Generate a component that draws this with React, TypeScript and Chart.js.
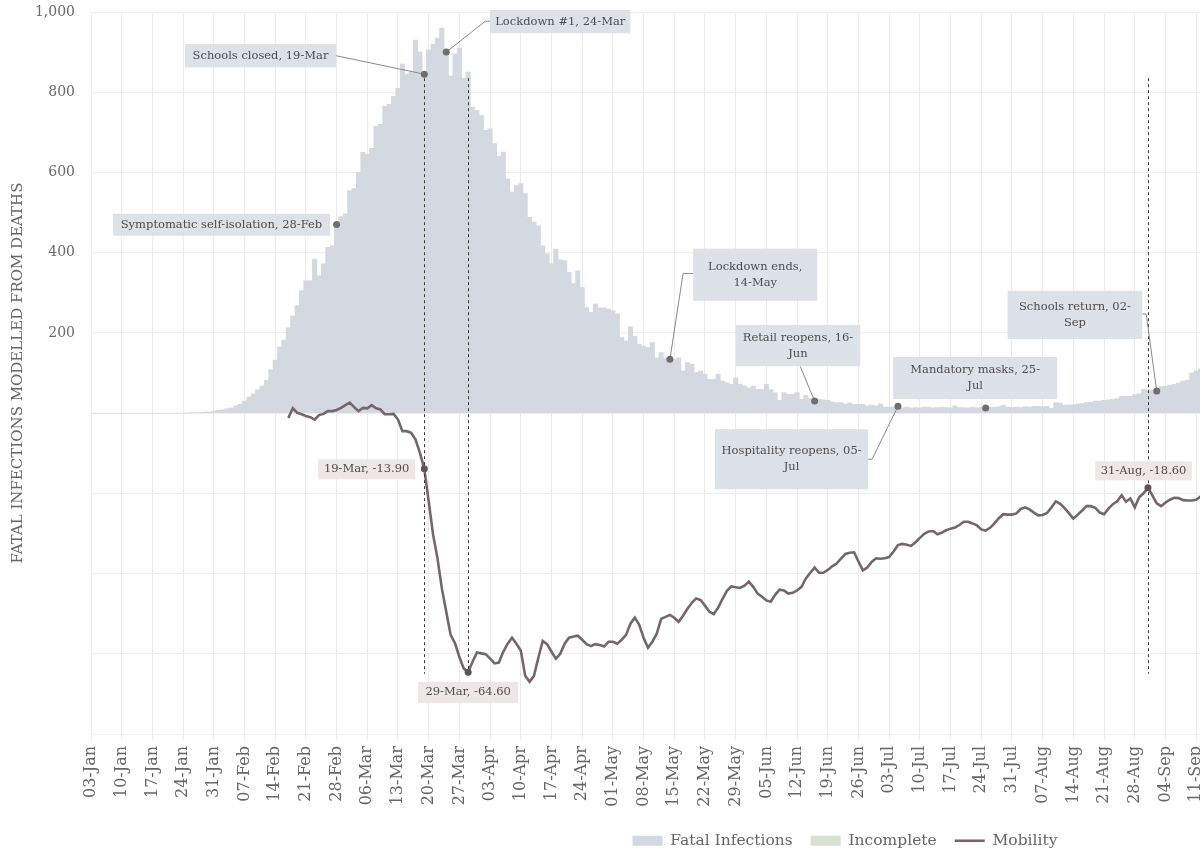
import React, { useEffect, useRef } from 'react';
import { Chart, registerables } from 'chart.js';

Chart.register(...registerables);

const MONTHS = ['Jan', 'Feb', 'Mar', 'Apr', 'May', 'Jun', 'Jul', 'Aug', 'Sep', 'Oct', 'Nov', 'Dec'];

// One category per day, 03-Jan-2020 .. 31-Dec-2020
const dayLabels: string[] = (() => {
  const out: string[] = [];
  const d = new Date(Date.UTC(2020, 0, 3));
  while (d.getUTCFullYear() === 2020) {
    out.push(String(d.getUTCDate()).padStart(2, '0') + '-' + MONTHS[d.getUTCMonth()]);
    d.setUTCDate(d.getUTCDate() + 1);
  }
  return out;
})();

// Fatal infections modelled from deaths, daily from 03-Jan
const fatalInfections: number[] = [
  0, 0, 0, 0, 0, 0, 0, 0, 0, 0,
  0, 0, 0, 0, 0, 0, 0, 0, 0, 0,
  0, 0, 0, 1, 1, 2, 3, 3, 5, 7,
  8, 11, 13, 18, 22, 30, 40, 48, 58, 68,
  82, 108, 132, 165, 182, 213, 242, 268, 305, 330,
  330, 384, 342, 372, 413, 417, 470, 490, 497, 555,
  560, 600, 650, 645, 660, 715, 720, 765, 770, 790,
  810, 870, 845, 850, 930, 900, 845, 905, 920, 935,
  960, 900, 840, 895, 910, 835, 850, 763, 755, 742,
  705, 709, 672, 640, 651, 584, 551, 567, 572, 547,
  488, 476, 467, 417, 397, 372, 409, 382, 380, 351,
  323, 355, 313, 263, 251, 272, 262, 262, 259, 255,
  247, 188, 180, 215, 192, 172, 167, 163, 176, 138,
  151, 137, 134, 134, 138, 105, 126, 122, 101, 105,
  97, 84, 84, 97, 80, 76, 72, 88, 72, 68,
  63, 67, 59, 59, 72, 59, 51, 32, 51, 47,
  47, 51, 34, 44, 36, 30, 34, 33, 32, 28,
  26, 26, 23, 25, 22, 22, 22, 18, 20, 18,
  23, 15, 15, 16, 17, 13, 15, 13, 14, 13,
  15, 14, 13, 14, 15, 14, 13, 18, 14, 13,
  13, 14, 13, 14, 13, 15, 14, 16, 20, 15,
  14, 15, 14, 16, 15, 17, 17, 16, 17, 12,
  26, 25, 20, 20, 21, 23, 24, 26, 27, 30,
  30, 32, 33, 34, 36, 42, 42, 42, 46, 48,
  59, 58, 57, 55, 66, 67, 70, 72, 75, 80,
  82, 100, 105, 110, 115, 118, 120,
];

// Incomplete (recent) infections: none within the visible window
const incompleteInfections: (number | null)[] = [];

// Mobility (% change from baseline), daily from 17-Feb
const mobilityStartDay = '17-Feb';
const mobility: number[] = [
  -1.2, 1.2, 0.1, -0.3, -0.7,
  -1.0, -1.6, -0.5, -0.2, 0.5, 0.5, 0.8, 1.3, 2.0, 2.6,
  1.5, 0.5, 1.3, 1.2, 2.0, 1.2, 0.9, -0.3, -0.3, -0.2,
  -1.6, -4.5, -4.5, -4.9, -6.6, -9.9, -13.9, -22.0, -30.3, -36.2,
  -43.7, -49.5, -55.3, -57.4, -60.8, -63.7, -64.6, -62.0, -59.7, -59.9,
  -60.1, -61.2, -62.4, -62.2, -59.5, -57.5, -56.0, -57.5, -59.2, -65.5,
  -67.0, -65.5, -61.0, -56.8, -57.6, -59.5, -61.2, -60.0, -57.5, -56.0,
  -55.7, -55.5, -56.5, -57.6, -58.1, -57.6, -57.8, -58.2, -57.0, -57.0,
  -57.5, -56.5, -55.3, -52.5, -51.0, -52.8, -56.0, -58.5, -57.0, -55.0,
  -51.3, -50.8, -50.3, -51.0, -52.0, -50.5, -48.8, -47.3, -46.2, -46.6,
  -48.0, -49.5, -50.1, -48.5, -46.3, -44.3, -43.2, -43.4, -43.6, -43.0,
  -42.0, -43.3, -45.0, -45.8, -46.7, -47.0, -45.3, -44.0, -44.2, -45.0,
  -44.8, -44.2, -43.3, -41.2, -39.8, -38.5, -39.8, -39.8, -39.1, -38.2,
  -37.5, -36.3, -35.1, -34.8, -34.7, -37.0, -39.2, -38.5, -37.1, -36.2,
  -36.3, -36.2, -35.9, -34.5, -32.9, -32.6, -32.8, -33.1, -32.2, -31.1,
  -30.1, -29.5, -29.4, -30.2, -29.8, -29.2, -28.8, -28.5, -27.9, -27.1,
  -27.1, -27.5, -28.0, -29.0, -29.3, -28.6, -27.5, -26.2, -25.2, -25.3,
  -25.3, -25.0, -23.9, -23.5, -24.0, -24.8, -25.5, -25.4, -24.9, -23.5,
  -22.0, -22.6, -23.7, -25.0, -26.3, -25.3, -24.3, -23.2, -23.2, -23.6,
  -24.8, -25.2, -23.8, -22.7, -22.0, -20.5, -22.1, -21.3, -23.5, -21.0,
  -20.0, -18.6, -20.5, -22.5, -23.2, -22.3, -21.6, -21.1, -21.2, -21.7,
  -21.8, -21.8, -21.6, -20.8, -20.5, -20.2,
];

// Y axis (shared): fatal infections; mobility drawn on a hidden axis aligned to it
const yMin = -800;
const yMax = 1000;
const yStep = 200;
const mobilityMin = -80;
const mobilityMax = 100;

// Event annotations (box corners and connector points in data units: day index, axis value)
const eventNotes = [
  { day: '28-Feb', lines: ['Symptomatic self-isolation, 28-Feb'], box: [5.0, 54.5, 497, 442], path: [] as number[][] },
  { day: '19-Mar', lines: ['Schools closed, 19-Mar'], box: [21.4, 55.9, 920, 862], path: [[55.9, 891]] },
  { day: '24-Mar', lines: ['Lockdown #1, 24-Mar'], box: [91, 123, 1005, 947], path: [[91, 977], [89.9, 977]] },
  { day: '14-May', lines: ['Lockdown ends,', '14-May'], box: [137.3, 165.6, 410, 280], path: [[137.3, 348], [135, 348]] },
  { day: '16-Jun', lines: ['Retail reopens, 16-', 'Jun'], box: [147, 175.4, 220, 117], path: [[161.7, 117]] },
  { day: '05-Jul', lines: ['Hospitality reopens, 05-', 'Jul'], box: [142.3, 177.2, -40, -190], path: [[177.2, -115], [178.1, -115]] },
  { day: '25-Jul', lines: ['Mandatory masks, 25-', 'Jul'], box: [182.9, 220.3, 140, 35], path: [] as number[][] },
  { day: '02-Sep', lines: ['Schools return, 02-', 'Sep'], box: [209, 239.7, 305, 185], path: [[239.7, 247], [240.6, 247]] },
];

// Mobility value labels (box in day index / mobility units)
const mobilityNotes = [
  { day: '19-Mar', box: [51.8, 73.9, -11.5, -16.5] },
  { day: '29-Mar', box: [74.6, 97.4, -67, -72.25] },
  { day: '31-Aug', box: [229, 251, -12, -16.75] },
];

const dashedDays = ['19-Mar', '29-Mar', '31-Aug'];
const dashedTop = 835; // fatal-infection units
const dashedBottom = -65; // mobility units

const FONT = 'DejaVu Serif';

const mobilityStart = dayLabels.indexOf(mobilityStartDay);
const fatalSeries = dayLabels.map((_, i) => (i < fatalInfections.length ? fatalInfections[i] : null));
const incompleteSeries = dayLabels.map((_, i) => (i < incompleteInfections.length ? incompleteInfections[i] : null));
const mobilitySeries = dayLabels.map((_, i) => {
  const k = i - mobilityStart;
  return k >= 0 && k < mobility.length ? mobility[k] : null;
});

const notesPlugin = {
  id: 'notes',
  afterDatasetsDraw(chart: any) {
    const ctx = chart.ctx;
    const xs = chart.scales.x;
    const ys = chart.scales.y;
    const ms = chart.scales.y2;
    const px = (i: number) => xs.getPixelForValue(i);
    const py = (v: number) => ys.getPixelForValue(v);
    const pm = (v: number) => ms.getPixelForValue(v);
    ctx.save();

    // dashed verticals
    ctx.setLineDash([3, 3]);
    ctx.strokeStyle = '#3a3a3a';
    ctx.lineWidth = 1;
    dashedDays.forEach((d) => {
      const x = Math.round(px(dayLabels.indexOf(d))) + 0.5;
      ctx.beginPath();
      ctx.moveTo(x, py(dashedTop));
      ctx.lineTo(x, pm(dashedBottom));
      ctx.stroke();
    });
    ctx.setLineDash([]);

    const drawBox = (x0: number, x1: number, y0: number, y1: number, fill: string, lines: string[]) => {
      ctx.fillStyle = fill;
      ctx.fillRect(x0, y0, x1 - x0, y1 - y0);
      ctx.fillStyle = '#4d4d4d';
      ctx.font = '11.5px "' + FONT + '"';
      ctx.textAlign = 'center';
      ctx.textBaseline = 'middle';
      const lh = 16;
      const cy = (y0 + y1) / 2 - ((lines.length - 1) * lh) / 2;
      lines.forEach((t, k) => ctx.fillText(t, (x0 + x1) / 2, cy + k * lh));
    };

    // event notes
    eventNotes.forEach((n) => {
      const di = dayLabels.indexOf(n.day);
      const dx = px(di);
      const dy = py(fatalInfections[di]);
      if (n.path.length) {
        ctx.strokeStyle = '#8a8a8a';
        ctx.lineWidth = 1;
        ctx.beginPath();
        n.path.forEach((p, k) => {
          if (k === 0) ctx.moveTo(px(p[0]), py(p[1]));
          else ctx.lineTo(px(p[0]), py(p[1]));
        });
        ctx.lineTo(dx, dy);
        ctx.stroke();
      }
      drawBox(px(n.box[0]), px(n.box[1]), py(n.box[2]), py(n.box[3]), '#dde1e8', n.lines);
      ctx.fillStyle = '#6e6e6e';
      ctx.beginPath();
      ctx.arc(dx, dy, 3.5, 0, Math.PI * 2);
      ctx.fill();
    });

    // mobility notes
    mobilityNotes.forEach((n) => {
      const di = dayLabels.indexOf(n.day);
      const v = mobilitySeries[di] as number;
      drawBox(px(n.box[0]), px(n.box[1]), pm(n.box[2]), pm(n.box[3]), '#efe6e8', [n.day + ', ' + v.toFixed(2)]);
      ctx.fillStyle = '#5e5357';
      ctx.beginPath();
      ctx.arc(px(di), pm(v), 3.5, 0, Math.PI * 2);
      ctx.fill();
    });
    ctx.restore();
  },
};

export default function App() {
  const ref = useRef<HTMLCanvasElement>(null);
  useEffect(() => {
    const chart = new Chart(ref.current as HTMLCanvasElement, {
      type: 'bar',
      data: {
        labels: dayLabels,
        datasets: [
          {
            type: 'bar',
            label: 'Fatal Infections',
            data: fatalSeries,
            backgroundColor: '#d3d8e1',
            borderWidth: 0,
            barPercentage: 1,
            categoryPercentage: 1,
            grouped: false,
            pointStyle: 'rect',
            order: 2,
          },
          {
            type: 'bar',
            label: 'Incomplete',
            data: incompleteSeries,
            backgroundColor: '#dadfd4',
            borderWidth: 0,
            barPercentage: 1,
            categoryPercentage: 1,
            grouped: false,
            pointStyle: 'rect',
            order: 2,
          },
          {
            type: 'line',
            label: 'Mobility',
            data: mobilitySeries,
            yAxisID: 'y2',
            borderColor: '#76666b',
            backgroundColor: '#76666b',
            borderWidth: 2.6,
            pointRadius: 0,
            pointStyle: 'line',
            tension: 0,
            order: 1,
          },
        ],
      } as any,
      options: {
        animation: false,
        responsive: false,
        devicePixelRatio: 1,
        layout: { padding: { top: 0, left: 0, right: 0, bottom: 0 } },
        font: { family: FONT },
        plugins: {
          tooltip: { enabled: false },
          legend: {
            position: 'bottom',
            maxHeight: 39,
            labels: {
              usePointStyle: true,
              pointStyleWidth: 30,
              boxHeight: 10,
              padding: 18,
              color: '#666',
              font: { family: FONT, size: 15.5 },
              sort: (a: any, b: any) => a.datasetIndex - b.datasetIndex,
            },
          },
        },
        scales: {
          x: {
            type: 'category',
            offset: false,
            grid: {
              offset: false,
              color: (c: any) => (c.index % 7 === 0 ? '#ebebeb' : 'rgba(0,0,0,0)'),
              tickLength: 6,
            },
            border: { display: false },
            ticks: {
              autoSkip: false,
              minRotation: 90,
              maxRotation: 90,
              padding: 6,
              color: '#666',
              font: { family: FONT, size: 16 },
              callback: (_v: any, i: number) => (i % 7 === 0 ? dayLabels[i] : ''),
            },
            afterFit: (s: any) => {
              s.height = 81;
              s.paddingLeft = 0;
              s.paddingRight = 7;
            },
          },
          y: {
            min: yMin,
            max: yMax,
            grid: { color: '#efefef', drawTicks: false },
            border: { display: false },
            ticks: {
              stepSize: yStep,
              padding: 16,
              color: '#6a6a6a',
              font: { family: FONT, size: 14 },
              callback: (v: any) => (Number(v) > 0 ? Number(v).toLocaleString('en-US') : ''),
            },
            title: {
              display: true,
              text: 'FATAL INFECTIONS MODELLED FROM DEATHS',
              color: '#666',
              font: { family: FONT, size: 15 },
              padding: { top: 9, bottom: 0 },
            },
            afterFit: (s: any) => {
              s.width = 91;
              s.paddingTop = 12;
              s.paddingBottom = 0;
            },
          },
          y2: {
            display: false,
            min: mobilityMin,
            max: mobilityMax,
          },
        },
      } as any,
      plugins: [notesPlugin],
    });
    return () => chart.destroy();
  }, []);
  return (
    <div style={{ position: 'fixed', left: 0, top: 0, width: 1200, height: 854, overflow: 'hidden', background: '#ffffff' }}>
      <canvas ref={ref} width={1690} height={854} style={{ display: 'block', width: 1690, height: 854 }} />
    </div>
  );
}
